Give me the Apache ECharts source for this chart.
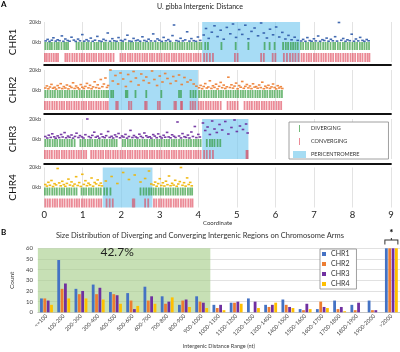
<!DOCTYPE html>
<html>
<head>
<meta charset="utf-8">
<script src="https://cdn.jsdelivr.net/npm/echarts/dist/echarts.min.js"></script>
<style>html,body{margin:0;padding:0;background:#fff}#chart{width:400px;height:352px}</style>
</head>
<body>
<div id="chart"></div>
<script>
// 上半部分：四条染色体的基因间距离，下半部分：长度分布柱状图
var chart = echarts.init(document.getElementById('chart'));
var FONT = 'Lato';

// ---------- 图 A 数据 ----------
var chrNames = ['CHR1', 'CHR2', 'CHR3', 'CHR4'];
var periStart = [4.1, 1.68, 4.1, 1.52];
var periEnd = [6.64, 3.99, 5.3, 2.81];

// [坐标(Mb), 距离(kb)]
var chr1Dist = [[0.04,1.1],[0.09,2.6],[0.14,0.6],[0.2,1.8],[0.24,4.2],[0.3,0.9],[0.35,2.2],[0.4,1.3],[0.46,6.1],[0.5,0.7],[0.55,3.0],[0.61,1.5],[0.66,0.8],[0.71,4.8],[0.77,1.9],[0.82,0.6],[0.88,2.9],[0.93,1.2],[0.99,7.4],[1.04,0.8],[1.1,2.3],[1.15,1.0],[1.21,3.9],[1.26,0.7],[1.32,1.8],[1.38,5.6],[1.43,1.1],[1.49,0.6],[1.54,2.7],[1.6,1.4],[1.65,9.0],[1.71,0.8],[1.77,3.3],[1.82,1.2],[1.88,0.7],[1.93,4.4],[1.99,1.6],[2.04,0.9],[2.1,2.5],[2.16,6.8],[2.21,1.0],[2.27,0.6],[2.32,3.6],[2.38,1.3],[2.43,2.0],[2.49,0.8],[2.55,5.2],[2.6,1.5],[2.66,0.7],[2.71,2.8],[2.77,1.1],[2.83,8.1],[2.88,0.9],[2.94,3.1],[2.99,1.7],[3.05,0.6],[3.1,4.6],[3.16,1.2],[3.22,2.4],[3.27,0.8],[3.33,6.4],[3.37,17.0],[3.43,1.4],[3.49,0.7],[3.54,3.7],[3.6,1.1],[3.66,2.1],[3.71,10.2],[3.77,0.9],[3.82,3.4],[3.88,1.3],[3.94,0.7],[3.99,5.0],[4.05,1.6],
  [4.14,7.0],[4.2,13.5],[4.27,3.6],[4.35,9.8],[4.42,16.2],[4.5,5.4],[4.58,11.8],[4.66,2.8],[4.74,14.6],[4.83,8.2],[4.9,18.0],[4.98,4.6],[5.06,12.4],[5.14,7.6],[5.22,16.8],[5.3,3.2],[5.38,10.6],[5.46,14.0],[5.55,6.2],[5.63,19.0],[5.7,9.0],[5.78,4.0],[5.86,12.8],[5.94,7.2],[6.02,15.0],[6.1,5.0],[6.18,9.6],[6.26,3.0],[6.34,6.6],[6.42,2.2],[6.5,4.8],[6.58,1.6],
  [6.67,1.0],[6.72,2.6],[6.78,0.7],[6.83,4.4],[6.89,1.4],[6.94,0.8],[7.0,3.2],[7.05,1.1],[7.11,6.0],[7.16,0.7],[7.22,2.3],[7.27,1.5],[7.33,3.9],[7.38,0.8],[7.44,2.7],[7.49,1.2],[7.55,5.3],[7.6,0.9],[7.65,19.5],[7.71,1.7],[7.76,3.5],[7.82,0.7],[7.87,2.2],[7.93,1.3],[7.98,7.8],[8.04,0.8],[8.09,3.0],[8.15,1.1],[8.2,4.6],[8.26,1.6],[8.31,0.7],[8.37,2.5],[8.42,1.2]];
var chr2Dist = [[0.03,2.0],[0.07,4.1],[0.11,1.2],[0.15,3.0],[0.19,5.6],[0.23,1.8],[0.27,2.7],[0.31,0.9],[0.35,4.4],[0.39,2.2],[0.43,6.3],[0.47,1.4],[0.51,3.4],[0.55,2.0],[0.59,5.0],[0.63,1.1],[0.67,3.8],[0.71,2.5],[0.75,7.2],[0.79,1.6],[0.83,4.0],[0.87,2.3],[0.91,1.0],[0.95,5.4],[0.99,2.8],[1.03,1.5],[1.07,3.6],[1.11,6.6],[1.15,2.1],[1.19,4.7],[1.23,1.3],[1.27,3.1],[1.31,8.2],[1.35,2.4],[1.39,5.2],[1.43,1.7],[1.47,10.5],[1.51,3.3],[1.55,6.0],[1.59,12.0],[1.63,2.6],[1.66,4.5],
  [1.72,20.0],[1.78,9.0],[1.85,14.5],[1.92,6.0],[1.98,17.0],[2.05,11.0],[2.12,3.5],[2.18,15.5],[2.25,8.5],[2.32,18.5],[2.38,12.0],[2.45,5.0],[2.52,16.0],[2.58,9.5],[2.65,13.0],[2.72,7.0],[2.8,19.0],[2.86,10.5],[2.93,4.5],[3.0,14.0],[3.07,8.0],[3.14,16.5],[3.2,11.5],[3.28,6.5],[3.35,13.5],[3.42,9.0],[3.5,15.0],[3.57,5.5],[3.64,12.5],[3.72,8.0],[3.8,10.0],[3.88,6.0],[3.95,3.8],
  [4.02,2.2],[4.06,4.6],[4.1,1.3],[4.14,3.5],[4.18,6.4],[4.22,2.0],[4.26,3.0],[4.3,9.2],[4.34,1.6],[4.38,4.2],[4.42,2.6],[4.46,5.8],[4.5,1.1],[4.54,3.7],[4.58,7.6],[4.62,2.3],[4.66,4.9],[4.7,1.5],[4.74,3.2],[4.78,12.8],[4.82,2.5],[4.86,5.2],[4.9,1.9],[4.94,3.9],[4.98,6.9],[5.02,1.2],[5.06,4.4],[5.1,2.8],[5.14,8.5],[5.18,1.7],[5.22,3.6],[5.26,5.5],[5.3,2.1],[5.34,4.0],[5.38,1.4],[5.42,6.2],[5.46,2.9],[5.5,3.4],[5.54,1.8],[5.58,5.0],[5.62,2.4],[5.66,7.8],[5.7,1.3],[5.74,3.8],[5.78,2.2],[5.82,4.7],[5.86,1.6],[5.9,3.1],[5.94,6.0],[5.98,2.5],[6.02,1.1],[6.06,4.3],[6.1,2.0],[6.14,3.3],[6.18,1.5]];
var chr3Dist = [[0.03,2.5],[0.08,1.0],[0.12,3.8],[0.17,1.6],[0.21,5.2],[0.26,2.2],[0.3,0.8],[0.35,3.1],[0.39,1.4],[0.44,4.5],[0.48,2.0],[0.53,6.4],[0.57,1.2],[0.62,2.9],[0.66,1.7],[0.71,4.0],[0.75,0.9],[0.8,2.6],[0.84,5.8],[0.89,1.5],[0.93,3.4],[0.98,2.1],[1.02,1.0],[1.07,4.3],[1.12,20.0],[1.16,2.4],[1.21,1.3],[1.25,3.6],[1.3,6.8],[1.34,1.8],[1.39,2.8],[1.43,0.9],[1.48,4.9],[1.52,2.2],[1.57,1.4],[1.61,3.3],[1.66,7.5],[1.7,1.6],[1.75,2.7],[1.79,1.0],[1.84,4.1],[1.88,2.3],[1.93,5.5],[1.97,1.2],[2.02,3.0],[2.06,1.9],[2.11,4.6],[2.15,0.9],[2.2,2.5],[2.24,8.6],[2.29,1.5],[2.33,3.5],[2.38,2.0],[2.42,1.1],[2.47,4.8],[2.51,2.6],[2.56,1.4],[2.6,6.0],[2.65,3.2],[2.69,1.7],[2.74,2.2],[2.78,0.9],[2.83,4.4],[2.87,2.9],[2.92,1.3],[2.96,5.1],[3.01,2.4],[3.05,1.0],[3.1,3.7],[3.14,1.8],[3.19,6.6],[3.23,2.1],[3.28,1.2],[3.32,4.2],[3.37,2.7],[3.41,1.5],[3.46,17.0],[3.5,3.0],[3.55,1.1],[3.59,5.4],[3.64,2.3],[3.68,1.6],[3.73,3.9],[3.77,1.0],[3.82,7.0],[3.86,2.5],[3.91,12.5],[3.95,1.4],[4.0,4.6],[4.04,2.0],
  [4.12,16.0],[4.18,8.5],[4.24,12.0],[4.3,4.5],[4.36,18.0],[4.42,10.0],[4.48,6.5],[4.55,14.5],[4.62,9.0],[4.7,17.5],[4.78,5.0],[4.86,11.5],[4.94,19.0],[5.0,7.5],[5.08,13.0],[5.16,9.5],[5.24,15.0],[5.28,6.0]];
var chr4Dist = [[0.03,3.0],[0.07,1.4],[0.11,5.2],[0.15,2.2],[0.19,7.0],[0.23,1.0],[0.27,3.8],[0.31,2.6],[0.35,19.0],[0.39,4.6],[0.43,1.7],[0.47,6.2],[0.51,2.9],[0.55,1.2],[0.59,4.1],[0.63,8.4],[0.67,2.4],[0.71,5.6],[0.75,1.5],[0.79,3.4],[0.83,10.8],[0.87,2.0],[0.91,4.9],[0.95,1.1],[0.99,13.2],[1.03,3.1],[1.07,6.8],[1.11,1.8],[1.15,4.3],[1.19,2.7],[1.23,9.5],[1.27,1.3],[1.31,5.0],[1.35,3.6],[1.39,7.6],[1.43,2.1],[1.47,4.4],[1.5,1.6],
  [1.6,6.5],[1.75,11.0],[1.9,4.0],[2.05,15.0],[2.2,8.0],[2.35,12.5],[2.5,5.5],[2.62,9.0],[2.72,16.5],[2.78,3.5],
  [2.84,2.6],[2.88,5.4],[2.92,1.3],[2.96,3.9],[3.0,8.8],[3.04,2.0],[3.08,4.7],[3.12,1.5],[3.16,6.3],[3.2,2.8],[3.24,11.5],[3.28,1.8],[3.32,4.2],[3.36,2.4],[3.4,7.2],[3.44,1.2],[3.48,3.5],[3.52,5.9],[3.55,20.0],[3.59,2.2],[3.63,4.8],[3.67,1.4],[3.71,9.6],[3.75,3.0],[3.79,5.1],[3.83,1.7]];

// 发散 / 汇聚 基因间区的位置 (Mb)
var chr1Div = [0.03,0.09,0.15,0.2,0.27,0.33,0.38,0.45,0.52,0.57,0.62,0.84,0.9,0.97,1.03,1.1,1.15,1.22,1.3,1.36,1.41,1.48,1.55,1.6,1.67,1.74,1.8,1.86,1.93,2.0,2.05,2.12,2.19,2.25,2.31,2.38,2.44,2.5,2.57,2.63,2.7,2.76,2.82,2.89,2.95,3.02,3.08,3.14,3.2,3.27,3.33,3.4,3.46,3.52,3.58,3.64,3.71,3.77,3.83,3.9,3.96,4.03,4.08,4.18,4.25,4.6,4.97,5.3,5.72,5.85,5.98,6.2,6.27,6.33,6.4,6.46,6.52,6.58,6.66,6.72,6.79,6.85,6.92,6.98,7.04,7.11,7.17,7.24,7.3,7.36,7.43,7.5,7.55,7.62,7.68,7.75,7.8,7.87,7.93,8.0,8.06,8.12,8.19,8.25,8.31,8.37,8.43];
var chr1Conv = [0.02,0.07,0.13,0.19,0.25,0.31,0.36,0.55,0.6,0.66,0.73,0.79,0.85,0.92,0.98,1.04,1.11,1.17,1.23,1.29,1.35,1.42,1.48,1.54,1.61,1.67,1.73,1.8,1.98,2.04,2.1,2.17,2.23,2.29,2.36,2.42,2.48,2.55,2.61,2.67,2.74,2.8,2.86,2.93,2.99,3.05,3.12,3.18,3.24,3.31,3.37,3.43,3.5,3.56,3.62,3.69,3.75,3.81,3.88,3.94,4.0,4.06,4.15,4.22,4.3,4.38,4.95,5.02,5.63,5.7,5.93,6.0,6.22,6.3,6.38,6.45,6.52,6.6,6.68,6.74,6.81,6.87,6.93,7.0,7.06,7.12,7.19,7.25,7.31,7.38,7.44,7.5,7.57,7.63,7.69,7.76,7.82,7.88,7.95,8.01,8.07,8.14,8.2,8.26,8.33,8.39,8.44];
var chr2Div = [0.03,0.09,0.16,0.22,0.28,0.35,0.41,0.47,0.54,0.6,0.66,0.73,0.79,0.85,0.92,0.98,1.04,1.11,1.17,1.23,1.3,1.36,1.42,1.49,1.55,1.61,1.66,1.74,1.79,2.12,2.16,2.37,2.65,3.04,3.5,3.55,3.8,3.87,3.93,4.02,4.08,4.15,4.21,4.27,4.34,4.4,4.46,4.53,4.59,4.65,4.72,4.78,4.84,4.91,4.97,5.03,5.1,5.16,5.22,5.29,5.35,5.41,5.48,5.54,5.6,5.67,5.73,5.79,5.86,5.92,5.98,6.05,6.11,6.17];
var chr2Conv = [0.02,0.08,0.14,0.21,0.27,0.33,0.4,0.46,0.52,0.59,0.65,0.71,0.78,0.84,0.9,0.97,1.03,1.09,1.16,1.22,1.28,1.35,1.41,1.47,1.54,1.6,1.65,1.87,1.91,2.2,2.26,2.62,2.66,2.95,3.0,3.38,3.42,3.55,3.58,3.8,3.86,3.92,4.01,4.07,4.13,4.2,4.26,4.32,4.39,4.45,4.51,4.58,4.76,4.83,4.89,4.95,5.02,5.2,5.27,5.33,5.39,5.46,5.52,5.58,5.65,5.71,5.77,5.84,5.9,5.96,6.03,6.09,6.15];
var chr3Div = [0.03,0.09,0.15,0.22,0.28,0.34,0.41,0.47,0.53,0.6,0.66,0.72,0.79,0.94,1.0,1.06,1.13,1.19,1.25,1.32,1.38,1.44,1.51,1.57,1.63,1.7,1.76,1.82,1.88,2.04,2.1,2.17,2.23,2.29,2.36,2.42,2.48,2.55,2.61,2.67,2.74,2.8,2.86,2.93,2.99,3.05,3.12,3.18,3.24,3.31,3.37,3.43,3.5,3.56,3.62,3.69,3.75,3.81,3.88,3.94,4.0,4.06,4.22,4.3,4.36,4.42,4.5,4.57];
var chr3Conv = [0.02,0.08,0.14,0.2,0.27,0.33,0.39,0.46,0.52,0.58,0.65,0.71,0.77,0.84,0.9,0.96,1.03,1.09,1.22,1.28,1.34,1.41,1.47,1.53,1.6,1.66,1.72,1.79,1.85,1.91,1.98,2.04,2.1,2.17,2.23,2.29,2.36,2.42,2.48,2.55,2.61,2.67,2.74,2.8,2.86,2.93,2.99,3.05,3.12,3.18,3.24,3.31,3.37,3.43,3.5,3.56,3.62,3.69,3.75,3.81,3.88,3.94,4.0,4.06,4.15,4.22,4.3,4.38,5.25,5.28];
var chr4Div = [0.02,0.08,0.14,0.21,0.27,0.33,0.4,0.46,0.52,0.59,0.65,0.71,0.78,0.84,0.97,1.03,1.09,1.16,1.22,1.28,1.35,1.41,1.47,1.56,1.63,1.72,2.5,2.58,2.65,2.72,2.78,2.84,2.9,2.97,3.03,3.09,3.16,3.22,3.28,3.35,3.41,3.47,3.54,3.6,3.66,3.73,3.79,3.84];
var chr4Conv = [0.03,0.09,0.15,0.22,0.28,0.34,0.41,0.47,0.53,0.6,0.66,0.72,0.79,0.85,0.91,0.98,1.04,1.1,1.17,1.23,1.29,1.36,1.42,1.48,1.62,1.7,1.78,2.3,2.34,2.62,2.7,2.85,2.91,2.98,3.04,3.1,3.17,3.23,3.29,3.36,3.42,3.48,3.55,3.61,3.67,3.74,3.8,3.85];

// ---------- 图 B 数据 ----------
var rangeLabels = ['<=100','100-200','200-300','300-400','400-500','500-600','600-700','700-800','800-900','900-1000','1000-1100','1100-1200','1200-1300','1300-1400','1400-1500','1500-1600','1600-1700','1700-1800','1800-1900','1900-2000','>2000'];
var chr1Counts = [13,49,22,26,19,18,24,15,7,15,7,9,13,7,12,3,3,11,7,11,60];
var chr2Counts = [13,22,17,17,17,11,11,8,11,10,4,9,0,5,7,2,10,3,2,2,60];
var chr3Counts = [11,27,20,23,16,3,15,10,12,9,7,10,10,7,5,8,5,5,9,2,60];
var chr4Counts = [7,13,13,12,8,6,8,14,5,4,2,8,4,9,4,3,4,1,0,0,60];
var armShare = '42.7%';   // 前 10 个区间（<=1000 nt）所占比例
var armBins = 10;

var distColors = ['#2f5aa8', '#ed7d31', '#6a2a9c', '#f0b400'];
var barColors = ['#4472c4', '#ed7d31', '#7030a0', '#ffc000'];
var dists = [chr1Dist, chr2Dist, chr3Dist, chr4Dist];
var divs = [chr1Div, chr2Div, chr3Div, chr4Div];
var convs = [chr1Conv, chr2Conv, chr3Conv, chr4Conv];
var trackTop = [22, 70, 119, 167.5];
var sepOffset = [3, 4, 4.5, 0];

var grids = [], xAxes = [], yAxes = [], series = [];

chrNames.forEach(function (name, i) {
    var last = i === 3;
    grids.push({ left: 31, right: 9, top: trackTop[i], height: 40 });
    xAxes.push({
        type: 'value', gridIndex: i, min: 0, max: 9, interval: 1,
        offset: sepOffset[i],
        axisLine: { show: !last, onZero: false, lineStyle: { color: '#111', width: 1.8 } },
        axisTick: { show: false },
        axisLabel: { show: last, fontSize: 9.5, color: '#222', margin: 2, fontFamily: FONT },
        splitLine: { show: true, lineStyle: { color: '#dcdcdc', width: 0.8 } },
        name: last ? 'Coordinate' : '', nameLocation: 'middle', nameGap: 11,
        nameTextStyle: { fontSize: 6, color: '#333', fontFamily: FONT }
    });
    yAxes.push({
        type: 'value', gridIndex: i, min: -20, max: 20, interval: 20,
        name: name, nameLocation: 'middle', nameGap: 16, nameRotate: 90,
        nameTextStyle: { fontSize: 10, color: '#111', fontFamily: FONT },
        axisLine: { show: false }, axisTick: { show: false }, splitLine: { show: false },
        axisLabel: {
            fontSize: 5.5, color: '#444', margin: 3, fontFamily: FONT,
            formatter: function (v) { return v === 20 ? '20kb' : (v === 0 ? '0kb' : ''); }
        }
    });
    series.push({
        name: name + ' distance', type: 'scatter', xAxisIndex: i, yAxisIndex: i,
        data: dists[i], symbol: 'rect', symbolSize: [2.6, 1.6], z: 6, silent: true,
        itemStyle: { color: distColors[i], opacity: 0.9 }
    });
    series.push({
        name: 'DIVERGING', type: 'scatter', xAxisIndex: i, yAxisIndex: i,
        data: divs[i].map(function (x) { return [x, -4]; }),
        symbol: 'rect', symbolSize: [1.8, 8], z: 2, silent: true,
        itemStyle: { color: 'rgba(40,150,50,0.82)' }
    });
    series.push({
        name: 'CONVERGING', type: 'scatter', xAxisIndex: i, yAxisIndex: i,
        data: convs[i].map(function (x) { return [x, -15.5]; }),
        symbol: 'rect', symbolSize: [1.8, 9], z: 2, silent: true,
        itemStyle: { color: 'rgba(222,60,80,0.75)' }
    });
    series.push({
        name: 'PERICENTROMERE', type: 'scatter', xAxisIndex: i, yAxisIndex: i,
        data: [], z: 4, silent: true,
        itemStyle: { color: '#8fd3f0' },
        markArea: {
            silent: true,
            itemStyle: { color: 'rgba(120,202,240,0.65)' },
            data: [[{ xAxis: periStart[i] }, { xAxis: periEnd[i] }]]
        }
    });
});

// 图 B 的网格与坐标轴
grids.push({ left: 28, right: 0, top: 248.3, height: 64 });
xAxes.push({
    type: 'category', gridIndex: 4, data: rangeLabels,
    axisTick: { show: false },
    axisLine: { lineStyle: { color: '#bfbfbf', width: 0.8 } },
    axisLabel: { interval: 0, rotate: 45, fontSize: 5.5, color: '#404040', margin: 3, fontFamily: FONT },
    name: 'Intergenic Distance Range (nt)', nameLocation: 'middle', nameGap: 31,
    nameTextStyle: { fontSize: 5.5, color: '#404040', fontFamily: FONT }
});
xAxes.push({ type: 'value', gridIndex: 4, min: 0, max: rangeLabels.length, show: false });
yAxes.push({
    type: 'value', gridIndex: 4, min: 0, max: 60, interval: 10,
    name: 'Count', nameLocation: 'middle', nameGap: 14,
    nameTextStyle: { fontSize: 6.5, color: '#404040', fontFamily: FONT },
    axisLine: { show: false }, axisTick: { show: false },
    axisLabel: { fontSize: 6, color: '#404040', margin: 5, fontFamily: FONT },
    splitLine: { lineStyle: { color: '#d9d9d9', width: 0.8 } }
});

[chr1Counts, chr2Counts, chr3Counts, chr4Counts].forEach(function (vals, k) {
    series.push({
        name: chrNames[k], type: 'bar', xAxisIndex: 4, yAxisIndex: 4,
        data: vals, barWidth: 2.8, barGap: '20%', z: 3, silent: true,
        itemStyle: { color: barColors[k] }
    });
});

// 绿色区域 + 42.7% 标注，以及 >2000 上方的括号和星号
series.push({
    type: 'line', xAxisIndex: 5, yAxisIndex: 4, data: [], z: 1, silent: true,
    markArea: {
        silent: true,
        itemStyle: { color: 'rgba(169,208,142,0.65)' },
        label: {
            show: true, position: 'insideTop', distance: 0, offset: [-7, -2],
            formatter: armShare, fontSize: 12, color: '#1e1e1e', fontFamily: FONT
        },
        data: [[{ xAxis: 0 }, { xAxis: armBins }]]
    },
    markPoint: {
        silent: true,
        symbol: 'path://M0,0H14V5H13V1H1V5H0Z M6.5,-1.5H7.5V0H6.5Z',
        symbolSize: [14, 6.5], symbolKeepAspect: false, symbolOffset: [0, -7],
        itemStyle: { color: '#333' },
        label: { show: true, position: 'top', distance: 0, formatter: '*', fontSize: 10, fontWeight: 'bold', color: '#000' },
        data: [{ coord: [rangeLabels.length - 0.5, 60] }]
    }
});

var option = {
    animation: false,
    textStyle: { fontFamily: FONT },
    title: [
        { text: 'A', left: 1, top: 0, padding: 0, textStyle: { fontSize: 8, fontWeight: 'bold', color: '#000', fontFamily: FONT } },
        { text: 'U. gibba Intergenic Distance', left: 'center', top: 3, padding: 0, textStyle: { fontSize: 7, fontWeight: 'normal', color: '#222', fontFamily: FONT } },
        { text: 'B', left: 1, top: 228, padding: 0, textStyle: { fontSize: 8, fontWeight: 'bold', color: '#000', fontFamily: FONT } },
        { text: 'Size Distribution of Diverging and Converging Intergenic Regions on Chromosome Arms', left: 'center', top: 232, padding: 0, textStyle: { fontSize: 7.5, fontWeight: 'normal', color: '#333', fontFamily: FONT } }
    ],
    legend: [
        {
            left: 289, top: 122, orient: 'vertical', selectedMode: false,
            itemWidth: 13, itemHeight: 7, itemGap: 6, padding: [3, 29, 1, 4],
            borderColor: '#888', borderWidth: 0.8, backgroundColor: '#fff',
            textStyle: { fontSize: 5.5, color: '#333', fontFamily: FONT },
            data: [
                { name: 'DIVERGING', icon: 'path://M0,0h2v14h-2z' },
                { name: 'CONVERGING', icon: 'path://M0,0h2v14h-2z' },
                { name: 'PERICENTROMERE', icon: 'rect' }
            ]
        },
        {
            left: 320, top: 249, orient: 'vertical', selectedMode: false,
            itemWidth: 4, itemHeight: 4, itemGap: 2, padding: [1, 7, 1, 2], icon: 'rect',
            borderColor: '#888', borderWidth: 0.8, backgroundColor: '#fff',
            textStyle: { fontSize: 7, color: '#333', lineHeight: 8, fontFamily: FONT },
            data: chrNames
        }
    ],
    grid: grids,
    xAxis: xAxes,
    yAxis: yAxes,
    series: series
};

chart.setOption(option);
</script>
</body>
</html>
